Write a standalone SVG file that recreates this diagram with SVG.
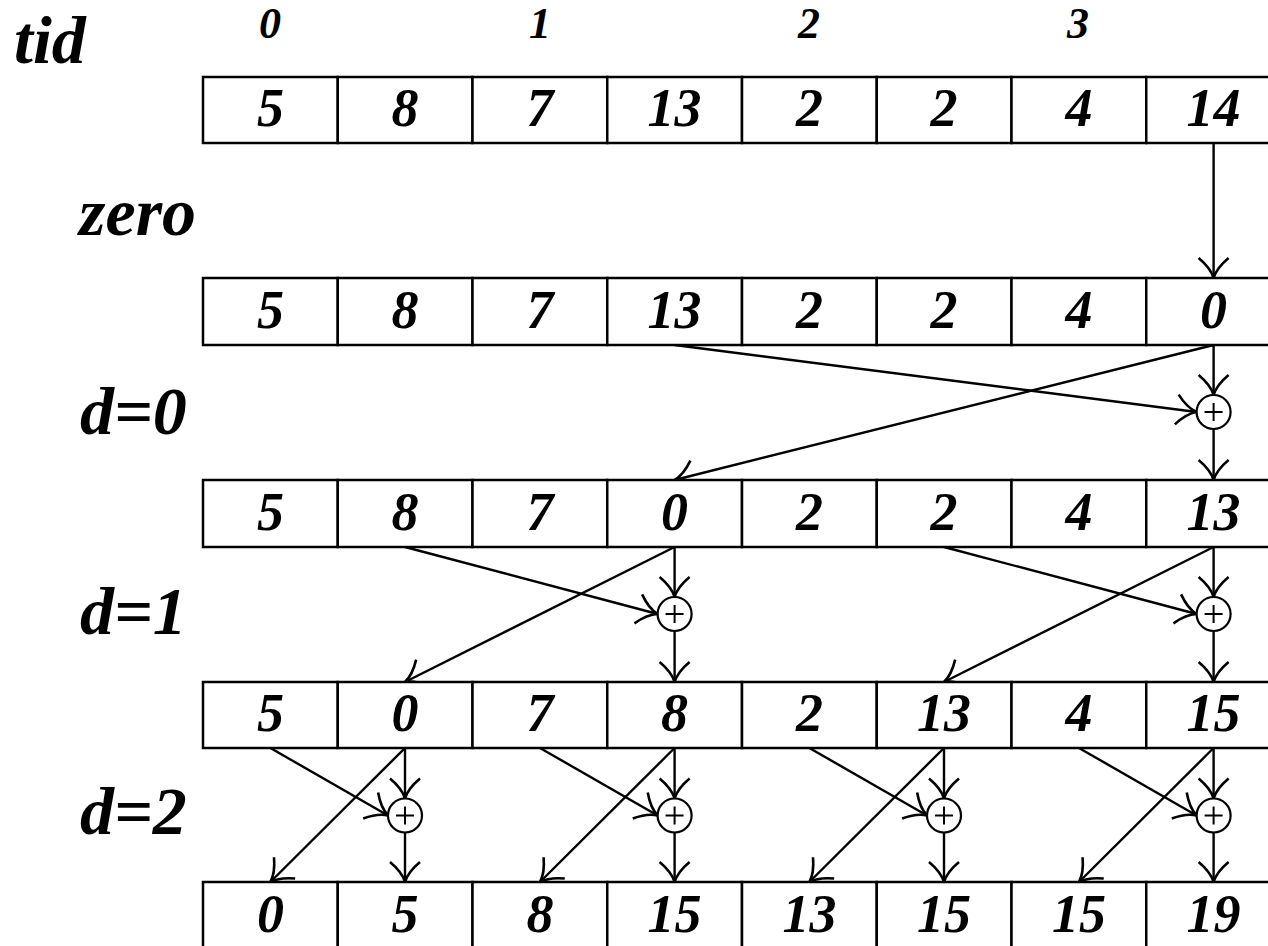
<svg xmlns="http://www.w3.org/2000/svg" width="1268" height="946" viewBox="0 0 1268 946">
<style>
.cell{fill:#fff;stroke:#000;stroke-width:2.5}
.v{font-family:"Liberation Serif","Times New Roman",serif;font-weight:bold;font-style:italic;font-size:54px;text-anchor:middle;fill:#000}
.lab{font-family:"Liberation Serif","Times New Roman",serif;font-weight:bold;font-style:italic;font-size:68px;fill:#000}
.tid{font-family:"Liberation Serif","Times New Roman",serif;font-weight:bold;font-style:italic;font-size:44px;text-anchor:middle;fill:#000}
.c{fill:none;stroke:#000;stroke-width:2.4}
.pc{fill:#fff;stroke:#000;stroke-width:2.2}
.pl{stroke:#000;stroke-width:2}
</style>
<defs>
<marker id="ah" markerUnits="userSpaceOnUse" markerWidth="40" markerHeight="40" refX="30" refY="20" orient="auto" overflow="visible">
<path d="M10,5 Q20,17 30,20 Q20,23 10,35" fill="none" stroke="#000" stroke-width="2.6"/>
</marker>
</defs>

<g id="labels">
<text class="lab" x="14" y="63">tid</text>
<text class="lab" x="79" y="235">zero</text>
<text class="lab" x="80" y="434">d=0</text>
<text class="lab" x="80" y="634">d=1</text>
<text class="lab" x="80" y="834">d=2</text>
<text class="tid" x="270" y="38">0</text>
<text class="tid" x="540" y="38">1</text>
<text class="tid" x="809" y="38">2</text>
<text class="tid" x="1078" y="38">3</text>
</g>

<g id="connectors">
<line class="c" x1="1213.6" y1="143" x2="1213.6" y2="278" marker-end="url(#ah)"/>

<line class="c" x1="674.6" y1="345" x2="1196.6" y2="412" marker-end="url(#ah)"/>
<line class="c" x1="1213.6" y1="345" x2="674.6" y2="480" marker-end="url(#ah)"/>
<line class="c" x1="1213.6" y1="345" x2="1213.6" y2="395" marker-end="url(#ah)"/>
<line class="c" x1="1213.6" y1="429" x2="1213.6" y2="480" marker-end="url(#ah)"/>

<line class="c" x1="405" y1="547" x2="657.6" y2="614" marker-end="url(#ah)"/>
<line class="c" x1="674.6" y1="547" x2="405" y2="682" marker-end="url(#ah)"/>
<line class="c" x1="674.6" y1="547" x2="674.6" y2="597" marker-end="url(#ah)"/>
<line class="c" x1="674.6" y1="631" x2="674.6" y2="682" marker-end="url(#ah)"/>
<line class="c" x1="944" y1="547" x2="1196.6" y2="614" marker-end="url(#ah)"/>
<line class="c" x1="1213.6" y1="547" x2="944" y2="682" marker-end="url(#ah)"/>
<line class="c" x1="1213.6" y1="547" x2="1213.6" y2="597" marker-end="url(#ah)"/>
<line class="c" x1="1213.6" y1="631" x2="1213.6" y2="682" marker-end="url(#ah)"/>

<line class="c" x1="270.4" y1="748" x2="388" y2="815.5" marker-end="url(#ah)"/>
<line class="c" x1="405" y1="748" x2="270.4" y2="882" marker-end="url(#ah)"/>
<line class="c" x1="405" y1="748" x2="405" y2="798.5" marker-end="url(#ah)"/>
<line class="c" x1="405" y1="832.5" x2="405" y2="882" marker-end="url(#ah)"/>
<line class="c" x1="540" y1="748" x2="657.6" y2="815.5" marker-end="url(#ah)"/>
<line class="c" x1="674.6" y1="748" x2="540" y2="882" marker-end="url(#ah)"/>
<line class="c" x1="674.6" y1="748" x2="674.6" y2="798.5" marker-end="url(#ah)"/>
<line class="c" x1="674.6" y1="832.5" x2="674.6" y2="882" marker-end="url(#ah)"/>
<line class="c" x1="809.4" y1="748" x2="927" y2="815.5" marker-end="url(#ah)"/>
<line class="c" x1="944" y1="748" x2="809.4" y2="882" marker-end="url(#ah)"/>
<line class="c" x1="944" y1="748" x2="944" y2="798.5" marker-end="url(#ah)"/>
<line class="c" x1="944" y1="832.5" x2="944" y2="882" marker-end="url(#ah)"/>
<line class="c" x1="1079" y1="748" x2="1196.6" y2="815.5" marker-end="url(#ah)"/>
<line class="c" x1="1213.6" y1="748" x2="1079" y2="882" marker-end="url(#ah)"/>
<line class="c" x1="1213.6" y1="748" x2="1213.6" y2="798.5" marker-end="url(#ah)"/>
<line class="c" x1="1213.6" y1="832.5" x2="1213.6" y2="882" marker-end="url(#ah)"/>
</g>

<g id="row0">
<rect class="cell" x="203" y="77" width="134.75" height="66"/><rect class="cell" x="337.75" y="77" width="134.75" height="66"/><rect class="cell" x="472.5" y="77" width="134.75" height="66"/><rect class="cell" x="607.25" y="77" width="134.75" height="66"/><rect class="cell" x="742" y="77" width="134.75" height="66"/><rect class="cell" x="876.75" y="77" width="134.75" height="66"/><rect class="cell" x="1011.5" y="77" width="134.75" height="66"/><rect class="cell" x="1146.25" y="77" width="134.75" height="66"/>
<text class="v" x="270.4" y="126">5</text><text class="v" x="405" y="126">8</text><text class="v" x="540" y="126">7</text><text class="v" x="674.6" y="126">13</text><text class="v" x="809.4" y="126">2</text><text class="v" x="944" y="126">2</text><text class="v" x="1079" y="126">4</text><text class="v" x="1213.6" y="126">14</text>
</g>

<g id="row1">
<rect class="cell" x="203" y="278" width="134.75" height="67"/><rect class="cell" x="337.75" y="278" width="134.75" height="67"/><rect class="cell" x="472.5" y="278" width="134.75" height="67"/><rect class="cell" x="607.25" y="278" width="134.75" height="67"/><rect class="cell" x="742" y="278" width="134.75" height="67"/><rect class="cell" x="876.75" y="278" width="134.75" height="67"/><rect class="cell" x="1011.5" y="278" width="134.75" height="67"/><rect class="cell" x="1146.25" y="278" width="134.75" height="67"/>
<text class="v" x="270.4" y="328">5</text><text class="v" x="405" y="328">8</text><text class="v" x="540" y="328">7</text><text class="v" x="674.6" y="328">13</text><text class="v" x="809.4" y="328">2</text><text class="v" x="944" y="328">2</text><text class="v" x="1079" y="328">4</text><text class="v" x="1213.6" y="328">0</text>
</g>

<g id="row2">
<rect class="cell" x="203" y="480" width="134.75" height="67"/><rect class="cell" x="337.75" y="480" width="134.75" height="67"/><rect class="cell" x="472.5" y="480" width="134.75" height="67"/><rect class="cell" x="607.25" y="480" width="134.75" height="67"/><rect class="cell" x="742" y="480" width="134.75" height="67"/><rect class="cell" x="876.75" y="480" width="134.75" height="67"/><rect class="cell" x="1011.5" y="480" width="134.75" height="67"/><rect class="cell" x="1146.25" y="480" width="134.75" height="67"/>
<text class="v" x="270.4" y="530">5</text><text class="v" x="405" y="530">8</text><text class="v" x="540" y="530">7</text><text class="v" x="674.6" y="530">0</text><text class="v" x="809.4" y="530">2</text><text class="v" x="944" y="530">2</text><text class="v" x="1079" y="530">4</text><text class="v" x="1213.6" y="530">13</text>
</g>

<g id="row3">
<rect class="cell" x="203" y="682" width="134.75" height="66"/><rect class="cell" x="337.75" y="682" width="134.75" height="66"/><rect class="cell" x="472.5" y="682" width="134.75" height="66"/><rect class="cell" x="607.25" y="682" width="134.75" height="66"/><rect class="cell" x="742" y="682" width="134.75" height="66"/><rect class="cell" x="876.75" y="682" width="134.75" height="66"/><rect class="cell" x="1011.5" y="682" width="134.75" height="66"/><rect class="cell" x="1146.25" y="682" width="134.75" height="66"/>
<text class="v" x="270.4" y="731">5</text><text class="v" x="405" y="731">0</text><text class="v" x="540" y="731">7</text><text class="v" x="674.6" y="731">8</text><text class="v" x="809.4" y="731">2</text><text class="v" x="944" y="731">13</text><text class="v" x="1079" y="731">4</text><text class="v" x="1213.6" y="731">15</text>
</g>

<g id="row4">
<rect class="cell" x="203" y="882" width="134.75" height="67"/><rect class="cell" x="337.75" y="882" width="134.75" height="67"/><rect class="cell" x="472.5" y="882" width="134.75" height="67"/><rect class="cell" x="607.25" y="882" width="134.75" height="67"/><rect class="cell" x="742" y="882" width="134.75" height="67"/><rect class="cell" x="876.75" y="882" width="134.75" height="67"/><rect class="cell" x="1011.5" y="882" width="134.75" height="67"/><rect class="cell" x="1146.25" y="882" width="134.75" height="67"/>
<text class="v" x="270.4" y="932">0</text><text class="v" x="405" y="932">5</text><text class="v" x="540" y="932">8</text><text class="v" x="674.6" y="932">15</text><text class="v" x="809.4" y="932">13</text><text class="v" x="944" y="932">15</text><text class="v" x="1079" y="932">15</text><text class="v" x="1213.6" y="932">19</text>
</g>

<g id="add-d0-7"><circle class="pc" cx="1213.6" cy="412" r="17"/><path class="pl" d="M1204.6,412H1222.6M1213.6,403V421"/></g>
<g id="add-d1-3"><circle class="pc" cx="674.6" cy="614" r="17"/><path class="pl" d="M665.6,614H683.6M674.6,605V623"/></g>
<g id="add-d1-7"><circle class="pc" cx="1213.6" cy="614" r="17"/><path class="pl" d="M1204.6,614H1222.6M1213.6,605V623"/></g>
<g id="add-d2-1"><circle class="pc" cx="405" cy="815.5" r="17"/><path class="pl" d="M396,815.5H414M405,806.5V824.5"/></g>
<g id="add-d2-3"><circle class="pc" cx="674.6" cy="815.5" r="17"/><path class="pl" d="M665.6,815.5H683.6M674.6,806.5V824.5"/></g>
<g id="add-d2-5"><circle class="pc" cx="944" cy="815.5" r="17"/><path class="pl" d="M935,815.5H953M944,806.5V824.5"/></g>
<g id="add-d2-7"><circle class="pc" cx="1213.6" cy="815.5" r="17"/><path class="pl" d="M1204.6,815.5H1222.6M1213.6,806.5V824.5"/></g>
</svg>
